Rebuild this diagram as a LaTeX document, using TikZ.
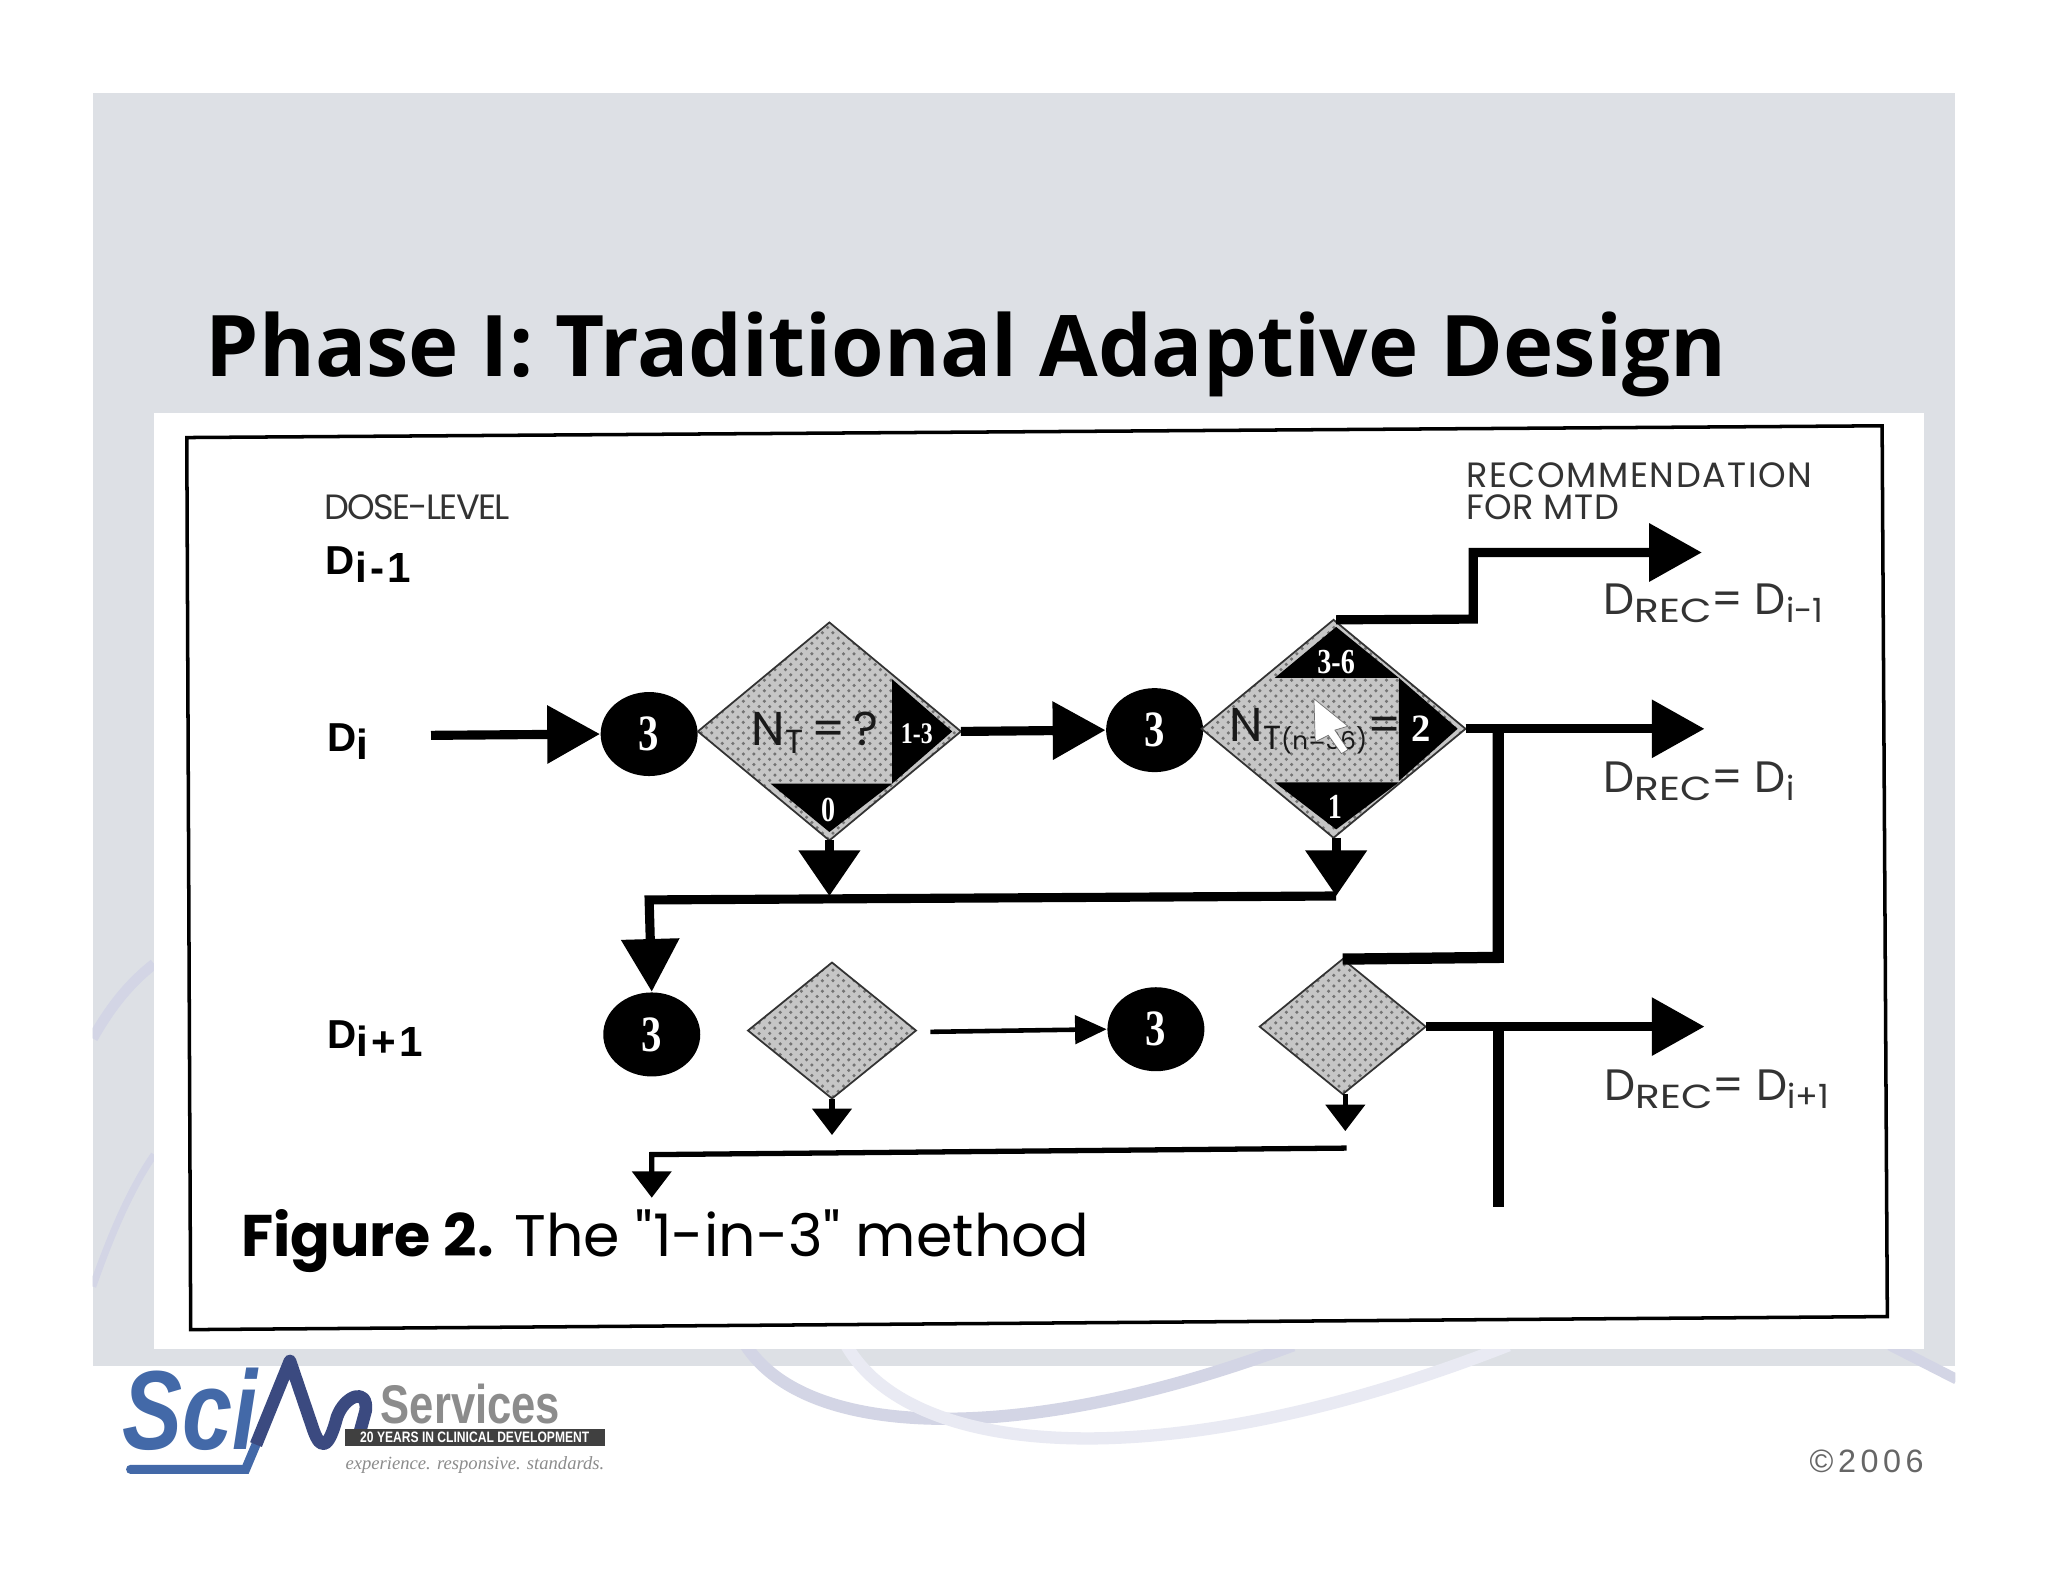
\documentclass[tikz,border=0pt]{standalone}
\usepackage{fontspec}
\usepackage{xcolor}
\usetikzlibrary{arrows.meta,patterns,shapes.geometric}
\newfontfamily\gothic{Poppins}
\newfontfamily\helv{Liberation Sans}
\newfontfamily\romn{Liberation Serif}
\newfontfamily\titlefont{Open Sans}
\newfontfamily\spaced[LetterSpace=14]{Liberation Sans}
\definecolor{slide}{HTML}{DDE0E5}
\definecolor{swoosh}{HTML}{D3D5E5}
\definecolor{swooshpale}{HTML}{E9EAF3}
\definecolor{logoblue}{HTML}{4369A8}
\definecolor{logodark}{HTML}{3B4A80}
\newcommand{\lowtext}[1]{\lower2.2pt\hbox{\fontsize{9.5}{10}\selectfont #1}}
\newcommand{\lowbold}[1]{\lower2.2pt\hbox{\fontsize{12}{12}\selectfont\addfontfeature{LetterSpace=8}#1}}
\newcommand{\lowrec}{\lower2.2pt\hbox{\fontsize{9.5}{10}\selectfont\scalebox{1.22}[1]{REC}}}
\newcommand{\slim}[1]{\scalebox{.8}[1]{#1}}
\tikzset{
  flow/.style={line width=2.6pt,-{Triangle[length=15pt,width=16pt]}},
  shortflow/.style={line width=2.6pt,-{Triangle[length=13pt,width=17pt]}},
  thinflow/.style={line width=1.3pt,-{Triangle[length=9pt,width=8pt]}},
  smallflow/.style={line width=1.5pt,-{Triangle[length=7.5pt,width=11pt]}},
  gate/.style={diamond,draw=black!80,line width=0.5pt,inner sep=0pt,outer sep=0pt,
    preaction={fill=gray!45},pattern=crosshatch dots,pattern color=gray!110},
  dosecount/.style={ellipse,fill=black,text=white,inner sep=0pt,
    minimum width=0.97cm,minimum height=0.84cm,font=\romn\bfseries\fontsize{14.5}{15}\selectfont},
  inmark/.style={text=white,inner sep=0pt,font=\romn\bfseries\fontsize{10}{10}\selectfont},
  doselabel/.style={anchor=west,inner sep=0pt,font=\helv\bfseries\fontsize{11.5}{12}\selectfont},
  reclabel/.style={anchor=west,inner sep=0pt,text=black!80,font=\gothic\fontsize{12.5}{13}\selectfont},
  gatetext/.style={anchor=west,inner sep=0pt,text=black!90,font=\gothic\fontsize{13.5}{14}\selectfont}
}
\begin{document}
\begin{tikzpicture}[x=0.013061cm,y=-0.013061cm,line join=miter]
  \useasboundingbox (0,0) rectangle (1568,1211);
  \fill[white] (0,0) rectangle (1568,1211);

  % slide background
  \fill[slide] (71,71) rectangle (1497,1046);
  \begin{scope}
    \clip (71,71) rectangle (1497,1211);
    \draw[swoosh,line width=3pt] (71,795) .. controls (85,770) and (100,752) .. (118,738);
    \draw[swoosh,line width=2pt] (71,985) .. controls (85,945) and (100,910) .. (118,884);
    \draw[swoosh,line width=3.5pt] (571,1030) .. controls (620,1105) and (790,1105) .. (990,1030);
    \draw[swooshpale,line width=3.5pt] (648,1030) .. controls (700,1120) and (900,1130) .. (1155,1030);
    \draw[swoosh,line width=3pt] (1447,1030) -- (1498,1056);
  \end{scope}
  \fill[white] (118,316) rectangle (1473,1033);

  % title and frame
  \node[anchor=base west,inner sep=0pt,font=\titlefont\bfseries\fontsize{24.2}{25}\selectfont] (title) at (157,288)
    {Phase I: Traditional Adaptive Design};
  \draw[line width=1pt] (143,335) -- (1441,326) -- (1445,1008) -- (146,1018) -- cycle;

  % dose levels
  \node[anchor=west,inner sep=0pt,text=black!80,font=\gothic\fontsize{10}{10}\selectfont] (doselevel) at (248,388)
    {\addfontfeature{LetterSpace=-5}DOSE-LEVEL};
  \node[doselabel] (lvlA) at (249,432) {D\lowbold{i-1}};
  \node[doselabel] (lvlB) at (250,568) {D\lowbold{i}};
  \node[doselabel] (lvlC) at (250,795) {D\lowbold{i+1}};

  % upper row
  \node[dosecount] (c1) at (497,562) {\slim{3}};
  \node[gate,minimum width=2.63cm,minimum height=2.18cm] (d1) at (635,560) {};
  \fill (683,520) -- (729,560) -- (683,600) -- cycle;
  \fill (590,600) -- (683,600) -- (635,637) -- cycle;
  \node[gatetext] (q1) at (575,561) {N\lowtext{T}\,=\,?};
  \node[inmark,font=\romn\bfseries\fontsize{8.5}{9}\selectfont] (q1a) at (702,562) {\slim{1-3}};
  \node[inmark] (q1b) at (634,620) {\slim{0}};

  \node[dosecount] (c2) at (884,559) {\slim{3}};
  \node[gate,minimum width=2.64cm,minimum height=2.18cm] (d2) at (1021,558) {};
  \fill (976,519) -- (1023,480) -- (1071,519) -- cycle;
  \fill (1071,519) -- (1116,558) -- (1071,598) -- cycle;
  \fill (976,599) -- (1071,599) -- (1023,635) -- cycle;
  \node[gatetext] (q2) at (941,560) {N\lowtext{T\fontsize{7}{7}\selectfont(n=36)}=};
  \node[inmark] (q2a) at (1023,507) {\slim{3-6}};
  \node[inmark,font=\romn\bfseries\fontsize{11}{11}\selectfont] (q2b) at (1088,558) {2};
  \node[inmark] (q2c) at (1022,618) {\slim{1}};

  % lower row
  \node[dosecount] (c3) at (499,792) {\slim{3}};
  \node[gate,minimum width=1.68cm,minimum height=1.36cm] (d3) at (637,789) {};
  \node[dosecount] (c4) at (885,788) {\slim{3}};
  \node[gate,minimum width=1.66cm,minimum height=1.35cm] (d4) at (1028,786) {};

  % free ends of the connectors
  \coordinate (start) at (330,563);
  \coordinate (j1) at (635,686);
  \coordinate (j2) at (1023,686);
  \coordinate (bend) at (497,689);
  \coordinate (top1) at (1128,474);
  \coordinate (top2) at (1128,423);
  \coordinate (recA) at (1303,423);
  \coordinate (recB) at (1305,558);
  \coordinate (recC) at (1305,786);
  \coordinate (t1) at (1147,558);
  \coordinate (t2) at (1147,733);
  \coordinate (t3) at (1147,786);
  \coordinate (t4) at (1147,924);
  \coordinate (s1) at (637,869);
  \coordinate (s2) at (1030,866);
  \coordinate (s3) at (1031,879);
  \coordinate (s4) at (499,884);
  \coordinate (s5) at (499,917);

  % connectors
  \draw[flow] (start) -- (c1.west);
  \draw[flow] (d1.east) -- (c2.west);
  \draw[shortflow] (d1.south) -- (j1);
  \draw[shortflow] (d2.south -| j2) -- (j2);
  \draw[flow] (j2) -- (bend) -- (c3.north);
  \draw[flow] (d2.north -| j2) -- (top1) -- (top2) -- (recA);
  \draw[flow] (d2.east) -- (recB);
  \draw[flow] (d4.east) -- (recC);
  \draw[line width=3.2pt] (t1) -- (t2) -- (d4.north);
  \draw[line width=3.2pt] (t3) -- (t4);
  \draw[thinflow] (d3.east) ++(11,1) -- (c4.west);
  \draw[smallflow] (d3.south) -- (s1);
  \draw[smallflow] (d4.south) ++(2,0) -- (s2);
  \draw[smallflow] (s3) -- (s4) -- (s5);

  % mouse pointer
  \fill[white,draw=black!55,line width=0.2pt] (1006,535) -- (1007,568) -- (1017,563) -- (1027,577)
    -- (1032,574) -- (1022,559) -- (1032,556) -- cycle;

  % recommendations
  \node[anchor=west,inner sep=0pt,align=left,text=black!80,font=\gothic\fontsize{10}{8.9}\selectfont] (rechead) at (1122,376)
    {\addfontfeature{LetterSpace=4.5}RECOMMENDATION\\\addfontfeature{LetterSpace=1.5}FOR MTD};
  \node[reclabel] (drecA) at (1227,462) {D\lowrec= D\lowtext{i-1}};
  \node[reclabel] (drecB) at (1227,598) {D\lowrec= D\lowtext{i}};
  \node[reclabel] (drecC) at (1228,834) {D\lowrec= D\lowtext{i+1}};

  % caption
  \node[anchor=base west,inner sep=0pt,font=\gothic\fontsize{16.7}{17}\selectfont] (caption) at (184,962)
    {{\bfseries Figure 2.} The "1-in-3" method};

  % logo
  \draw[logoblue,line width=2.6pt,line cap=round] (100,1125) -- (188,1125) -- (196,1106);
  \draw[logodark,line width=3.6pt,line join=round] (196,1106) -- (222,1042) -- (240,1095)
    .. controls (246,1112) and (252,1108) .. (258,1085)
    .. controls (264,1068) and (282,1062) .. (280,1080) -- (274,1102);
  \node[anchor=base west,inner sep=0pt,text=logoblue,font=\helv\bfseries\itshape\fontsize{32}{32}\selectfont] (sci) at (93,1110)
    {\slim{Sci}};
  \node[anchor=base west,inner sep=0pt,text=gray!90,font=\helv\bfseries\fontsize{15.5}{16}\selectfont] (services) at (291,1090)
    {\slim{Services}};
  \node[fill=black!75,text=white,inner sep=0pt,minimum width=2.6cm,minimum height=0.17cm,
        font=\helv\bfseries\fontsize{4.3}{5}\selectfont] (years) at (363.5,1100.5)
    {\slim{20 YEARS IN CLINICAL DEVELOPMENT}};
  \node[anchor=west,inner sep=0pt,text=gray!90,font=\romn\itshape\fontsize{5.3}{6}\selectfont] (tagline) at (264,1122)
    {experience. responsive. standards.};
  \node[anchor=west,inner sep=0pt,text=black!60,font=\spaced\fontsize{9.2}{10}\selectfont] (copy) at (1385,1119) {©2006};
\end{tikzpicture}
\end{document}
